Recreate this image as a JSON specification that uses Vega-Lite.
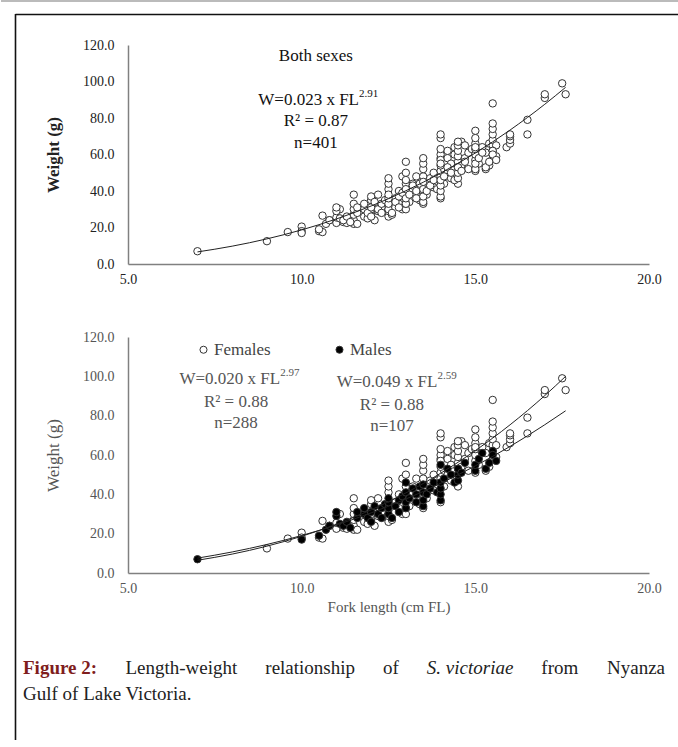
{
  "$schema": "https://vega.github.io/schema/vega-lite/v6.json",
  "padding": 0,
  "background": "white",
  "bounds": "flush",
  "spacing": 73,
  "config": {
    "font": "Liberation Serif",
    "view": {"stroke": null},
    "axis": {"ticks": false, "grid": false, "domainColor": "#808080", "domainWidth": 1.5, "labelFont": "Liberation Serif", "titleFont": "Liberation Serif", "labelFontSize": 14, "labelOverlap": false}
  },
  "datasets": {
    "fish": [
      {"fl": 9.0, "w": 12.5, "sex": "Females"}, {"fl": 9.6, "w": 17.5, "sex": "Females"}, {"fl": 10.0, "w": 20.5, "sex": "Females"}, {"fl": 10.0, "w": 18, "sex": "Females"},
      {"fl": 10.5, "w": 18, "sex": "Females"}, {"fl": 10.6, "w": 17.5, "sex": "Females"}, {"fl": 10.6, "w": 26.5, "sex": "Females"}, {"fl": 10.8, "w": 24, "sex": "Females"},
      {"fl": 11.0, "w": 22.5, "sex": "Females"}, {"fl": 11.0, "w": 25.5, "sex": "Females"}, {"fl": 11.1, "w": 30, "sex": "Females"}, {"fl": 11.2, "w": 23, "sex": "Females"},
      {"fl": 11.3, "w": 22.5, "sex": "Females"}, {"fl": 11.5, "w": 22, "sex": "Females"}, {"fl": 11.5, "w": 24, "sex": "Females"}, {"fl": 11.5, "w": 27, "sex": "Females"},
      {"fl": 11.5, "w": 30, "sex": "Females"}, {"fl": 11.5, "w": 33, "sex": "Females"}, {"fl": 11.5, "w": 38, "sex": "Females"}, {"fl": 11.6, "w": 22, "sex": "Females"},
      {"fl": 11.8, "w": 26, "sex": "Females"}, {"fl": 11.9, "w": 25, "sex": "Females"}, {"fl": 12.0, "w": 27, "sex": "Females"}, {"fl": 12.0, "w": 35, "sex": "Females"},
      {"fl": 12.0, "w": 37, "sex": "Females"}, {"fl": 12.1, "w": 24, "sex": "Females"}, {"fl": 12.2, "w": 38, "sex": "Females"}, {"fl": 12.3, "w": 31, "sex": "Females"},
      {"fl": 12.5, "w": 26, "sex": "Females"}, {"fl": 12.5, "w": 41, "sex": "Females"}, {"fl": 12.5, "w": 44, "sex": "Females"}, {"fl": 12.5, "w": 47, "sex": "Females"},
      {"fl": 12.6, "w": 27, "sex": "Females"}, {"fl": 12.7, "w": 36, "sex": "Females"}, {"fl": 12.8, "w": 40, "sex": "Females"}, {"fl": 12.9, "w": 48, "sex": "Females"},
      {"fl": 12.9, "w": 30, "sex": "Females"}, {"fl": 13.0, "w": 30, "sex": "Females"}, {"fl": 13.0, "w": 39, "sex": "Females"}, {"fl": 13.0, "w": 44, "sex": "Females"},
      {"fl": 13.0, "w": 50, "sex": "Females"}, {"fl": 13.0, "w": 56, "sex": "Females"}, {"fl": 13.1, "w": 34, "sex": "Females"}, {"fl": 13.3, "w": 48, "sex": "Females"},
      {"fl": 13.4, "w": 35, "sex": "Females"}, {"fl": 13.5, "w": 33, "sex": "Females"}, {"fl": 13.5, "w": 48, "sex": "Females"}, {"fl": 13.5, "w": 52, "sex": "Females"},
      {"fl": 13.5, "w": 55, "sex": "Females"}, {"fl": 13.5, "w": 58, "sex": "Females"}, {"fl": 13.6, "w": 38, "sex": "Females"}, {"fl": 13.7, "w": 47, "sex": "Females"},
      {"fl": 13.8, "w": 50, "sex": "Females"}, {"fl": 13.9, "w": 47, "sex": "Females"}, {"fl": 14.0, "w": 36, "sex": "Females"}, {"fl": 14.0, "w": 48, "sex": "Females"},
      {"fl": 14.0, "w": 51, "sex": "Females"}, {"fl": 14.0, "w": 58, "sex": "Females"}, {"fl": 14.0, "w": 60, "sex": "Females"}, {"fl": 14.0, "w": 69, "sex": "Females"},
      {"fl": 14.0, "w": 71, "sex": "Females"}, {"fl": 14.1, "w": 44, "sex": "Females"}, {"fl": 14.1, "w": 52, "sex": "Females"}, {"fl": 14.2, "w": 58, "sex": "Females"},
      {"fl": 14.2, "w": 62, "sex": "Females"}, {"fl": 14.3, "w": 55, "sex": "Females"}, {"fl": 14.4, "w": 60, "sex": "Females"}, {"fl": 14.4, "w": 64, "sex": "Females"},
      {"fl": 14.5, "w": 44, "sex": "Females"}, {"fl": 14.5, "w": 56, "sex": "Females"}, {"fl": 14.5, "w": 59, "sex": "Females"}, {"fl": 14.5, "w": 62, "sex": "Females"},
      {"fl": 14.5, "w": 65, "sex": "Females"}, {"fl": 14.6, "w": 67, "sex": "Females"}, {"fl": 14.6, "w": 54, "sex": "Females"}, {"fl": 14.7, "w": 58, "sex": "Females"},
      {"fl": 14.7, "w": 65, "sex": "Females"}, {"fl": 14.8, "w": 52, "sex": "Females"}, {"fl": 14.8, "w": 61, "sex": "Females"}, {"fl": 14.9, "w": 63, "sex": "Females"},
      {"fl": 15.0, "w": 57, "sex": "Females"}, {"fl": 15.0, "w": 60, "sex": "Females"}, {"fl": 15.0, "w": 63, "sex": "Females"}, {"fl": 15.0, "w": 66, "sex": "Females"},
      {"fl": 15.0, "w": 69, "sex": "Females"}, {"fl": 15.0, "w": 73, "sex": "Females"}, {"fl": 15.1, "w": 55, "sex": "Females"}, {"fl": 15.2, "w": 64, "sex": "Females"},
      {"fl": 15.3, "w": 61, "sex": "Females"}, {"fl": 15.4, "w": 54, "sex": "Females"}, {"fl": 15.4, "w": 66, "sex": "Females"}, {"fl": 15.5, "w": 58, "sex": "Females"},
      {"fl": 15.5, "w": 65, "sex": "Females"}, {"fl": 15.5, "w": 68, "sex": "Females"}, {"fl": 15.5, "w": 71, "sex": "Females"}, {"fl": 15.5, "w": 74, "sex": "Females"},
      {"fl": 15.5, "w": 77, "sex": "Females"}, {"fl": 15.5, "w": 88, "sex": "Females"}, {"fl": 15.6, "w": 65, "sex": "Females"}, {"fl": 15.9, "w": 64, "sex": "Females"},
      {"fl": 16.0, "w": 66, "sex": "Females"}, {"fl": 16.0, "w": 68, "sex": "Females"}, {"fl": 16.0, "w": 70, "sex": "Females"}, {"fl": 16.0, "w": 71, "sex": "Females"},
      {"fl": 16.5, "w": 79, "sex": "Females"}, {"fl": 16.5, "w": 71, "sex": "Females"}, {"fl": 17.0, "w": 91, "sex": "Females"}, {"fl": 17.0, "w": 93, "sex": "Females"},
      {"fl": 17.5, "w": 99, "sex": "Females"}, {"fl": 17.6, "w": 93, "sex": "Females"},
      {"fl": 12.0, "w": 30, "sex": "Females"}, {"fl": 12.2, "w": 29, "sex": "Females"}, {"fl": 12.4, "w": 34, "sex": "Females"}, {"fl": 12.5, "w": 29, "sex": "Females"},
      {"fl": 12.5, "w": 32, "sex": "Females"}, {"fl": 12.8, "w": 33, "sex": "Females"}, {"fl": 13.0, "w": 33, "sex": "Females"}, {"fl": 13.2, "w": 44, "sex": "Females"},
      {"fl": 13.3, "w": 38, "sex": "Females"}, {"fl": 13.5, "w": 40, "sex": "Females"}, {"fl": 13.5, "w": 44, "sex": "Females"}, {"fl": 13.8, "w": 42, "sex": "Females"},
      {"fl": 14.0, "w": 54, "sex": "Females"}, {"fl": 14.0, "w": 57, "sex": "Females"}, {"fl": 14.2, "w": 50, "sex": "Females"}, {"fl": 14.3, "w": 47, "sex": "Females"},
      {"fl": 14.5, "w": 53, "sex": "Females"}, {"fl": 15.0, "w": 51, "sex": "Females"}, {"fl": 15.3, "w": 52, "sex": "Females"}, {"fl": 15.6, "w": 59, "sex": "Females"},
      {"fl": 15.5, "w": 62, "sex": "Females"}, {"fl": 14.0, "w": 63, "sex": "Females"}, {"fl": 14.5, "w": 67, "sex": "Females"}, {"fl": 15.0, "w": 64, "sex": "Females"},
      {"fl": 7.0, "w": 7, "sex": "Males"}, {"fl": 10.0, "w": 17, "sex": "Males"}, {"fl": 10.5, "w": 19, "sex": "Males"}, {"fl": 10.7, "w": 22, "sex": "Males"},
      {"fl": 10.8, "w": 24, "sex": "Males"}, {"fl": 11.0, "w": 29, "sex": "Males"}, {"fl": 11.0, "w": 31, "sex": "Males"}, {"fl": 11.1, "w": 25, "sex": "Males"},
      {"fl": 11.2, "w": 24, "sex": "Males"}, {"fl": 11.3, "w": 26, "sex": "Males"}, {"fl": 11.4, "w": 23, "sex": "Males"}, {"fl": 11.6, "w": 28, "sex": "Males"},
      {"fl": 11.6, "w": 31, "sex": "Males"}, {"fl": 11.8, "w": 30, "sex": "Males"}, {"fl": 11.8, "w": 33, "sex": "Males"}, {"fl": 11.9, "w": 28, "sex": "Males"},
      {"fl": 12.0, "w": 31, "sex": "Males"}, {"fl": 12.0, "w": 26, "sex": "Males"}, {"fl": 12.1, "w": 34, "sex": "Males"}, {"fl": 12.2, "w": 30, "sex": "Males"},
      {"fl": 12.3, "w": 28, "sex": "Males"}, {"fl": 12.3, "w": 33, "sex": "Males"}, {"fl": 12.4, "w": 35, "sex": "Males"}, {"fl": 12.5, "w": 30, "sex": "Males"},
      {"fl": 12.5, "w": 33, "sex": "Males"}, {"fl": 12.5, "w": 36, "sex": "Males"}, {"fl": 12.5, "w": 38, "sex": "Males"}, {"fl": 12.6, "w": 28, "sex": "Males"},
      {"fl": 12.7, "w": 34, "sex": "Males"}, {"fl": 12.8, "w": 37, "sex": "Males"}, {"fl": 12.8, "w": 31, "sex": "Males"}, {"fl": 12.9, "w": 39, "sex": "Males"},
      {"fl": 13.0, "w": 33, "sex": "Males"}, {"fl": 13.0, "w": 36, "sex": "Males"}, {"fl": 13.0, "w": 41, "sex": "Males"}, {"fl": 13.0, "w": 46, "sex": "Males"},
      {"fl": 13.1, "w": 38, "sex": "Males"}, {"fl": 13.2, "w": 43, "sex": "Males"}, {"fl": 13.3, "w": 36, "sex": "Males"}, {"fl": 13.3, "w": 40, "sex": "Males"},
      {"fl": 13.4, "w": 44, "sex": "Males"}, {"fl": 13.5, "w": 34, "sex": "Males"}, {"fl": 13.5, "w": 37, "sex": "Males"}, {"fl": 13.5, "w": 41, "sex": "Males"},
      {"fl": 13.5, "w": 45, "sex": "Males"}, {"fl": 13.6, "w": 40, "sex": "Males"}, {"fl": 13.7, "w": 43, "sex": "Males"}, {"fl": 13.8, "w": 46, "sex": "Males"},
      {"fl": 13.9, "w": 41, "sex": "Males"}, {"fl": 14.0, "w": 37, "sex": "Males"}, {"fl": 14.0, "w": 40, "sex": "Males"}, {"fl": 14.0, "w": 43, "sex": "Males"},
      {"fl": 14.0, "w": 46, "sex": "Males"}, {"fl": 14.0, "w": 55, "sex": "Males"}, {"fl": 14.1, "w": 48, "sex": "Males"}, {"fl": 14.2, "w": 53, "sex": "Males"},
      {"fl": 14.3, "w": 50, "sex": "Males"}, {"fl": 14.4, "w": 46, "sex": "Males"}, {"fl": 14.5, "w": 47, "sex": "Males"}, {"fl": 14.5, "w": 50, "sex": "Males"},
      {"fl": 14.5, "w": 53, "sex": "Males"}, {"fl": 14.6, "w": 51, "sex": "Males"}, {"fl": 14.7, "w": 56, "sex": "Males"}, {"fl": 15.0, "w": 52, "sex": "Males"},
      {"fl": 15.0, "w": 55, "sex": "Males"}, {"fl": 15.1, "w": 58, "sex": "Males"}, {"fl": 15.2, "w": 61, "sex": "Males"}, {"fl": 15.3, "w": 53, "sex": "Males"},
      {"fl": 15.4, "w": 56, "sex": "Males"}, {"fl": 15.5, "w": 62, "sex": "Males"}, {"fl": 15.5, "w": 60, "sex": "Males"}, {"fl": 15.6, "w": 57, "sex": "Males"}
    ],
    "fits": [
      {"fl": 7, "w": 6.62, "fit": "Both"}, {"fl": 8, "w": 9.77, "fit": "Both"}, {"fl": 9, "w": 13.77, "fit": "Both"}, {"fl": 10, "w": 18.69, "fit": "Both"},
      {"fl": 11, "w": 24.68, "fit": "Both"}, {"fl": 12, "w": 31.78, "fit": "Both"}, {"fl": 13, "w": 40.13, "fit": "Both"}, {"fl": 14, "w": 49.79, "fit": "Both"},
      {"fl": 15, "w": 60.83, "fit": "Both"}, {"fl": 16, "w": 73.40, "fit": "Both"}, {"fl": 17, "w": 87.53, "fit": "Both"}, {"fl": 17.6, "w": 96.82, "fit": "Both"},
      {"fl": 7, "w": 6.47, "fit": "Females"}, {"fl": 8, "w": 9.62, "fit": "Females"}, {"fl": 9, "w": 13.65, "fit": "Females"}, {"fl": 10, "w": 18.67, "fit": "Females"},
      {"fl": 11, "w": 24.79, "fit": "Females"}, {"fl": 12, "w": 32.09, "fit": "Females"}, {"fl": 13, "w": 40.70, "fit": "Females"}, {"fl": 14, "w": 50.70, "fit": "Females"},
      {"fl": 15, "w": 62.24, "fit": "Females"}, {"fl": 16, "w": 75.36, "fit": "Females"}, {"fl": 17, "w": 90.21, "fit": "Females"}, {"fl": 17.6, "w": 100.0, "fit": "Females"},
      {"fl": 7, "w": 7.57, "fit": "Males"}, {"fl": 8, "w": 10.70, "fit": "Males"}, {"fl": 9, "w": 14.51, "fit": "Males"}, {"fl": 10, "w": 19.06, "fit": "Males"},
      {"fl": 11, "w": 24.41, "fit": "Males"}, {"fl": 12, "w": 30.57, "fit": "Males"}, {"fl": 13, "w": 37.61, "fit": "Males"}, {"fl": 14, "w": 45.58, "fit": "Males"},
      {"fl": 15, "w": 54.47, "fit": "Males"}, {"fl": 16, "w": 64.36, "fit": "Males"}, {"fl": 17, "w": 75.39, "fit": "Males"}, {"fl": 17.6, "w": 82.48, "fit": "Males"}
    ]
  },
  "resolve": {"scale": {"fill": "independent"}, "legend": {"fill": "independent"}},
  "vconcat": [
    {
      "width": 521,
      "height": 219,
      "encoding": {
        "x": {"type": "quantitative", "scale": {"domain": [5, 20], "nice": false}, "axis": {"values": [5, 10, 15, 20], "format": ".1f", "title": null, "labelColor": "#222", "labelFontSize": 14, "labelPadding": 8, "labelOverlap": false, "labelFlush": false}},
        "y": {"type": "quantitative", "scale": {"domain": [0, 120], "nice": false}, "axis": {"values": [0, 20, 40, 60, 80, 100, 120], "format": ".1f", "title": "Weight (g)", "titleFontWeight": "bold", "titleFontSize": 17, "titleColor": "#222", "labelColor": "#222", "labelFontSize": 14, "labelPadding": 14, "titlePadding": 20, "labelOverlap": false, "labelBound": false}}
      },
      "layer": [
        {
          "data": {"name": "fish"},
          "mark": {"type": "point", "shape": "circle", "filled": true, "fill": "white", "stroke": "#333", "strokeWidth": 1, "size": 55, "opacity": 1},
          "encoding": {"x": {"field": "fl"}, "y": {"field": "w"}}
        },
        {
          "data": {"name": "fits"},
          "transform": [{"filter": "datum.fit === 'Both'"}],
          "mark": {"type": "line", "color": "#222", "strokeWidth": 1, "interpolate": "monotone"},
          "encoding": {"x": {"field": "fl"}, "y": {"field": "w"}}
        },
        {
          "data": {"values": [{}]},
          "mark": {"type": "text", "text": "Both sexes", "fontSize": 17, "color": "#111", "align": "center", "baseline": "middle"},
          "encoding": {"x": {"datum": 10.41}, "y": {"datum": 114}}
        },
        {
          "data": {"values": [{}]},
          "mark": {"type": "text", "text": "W=0.023 x FL", "fontSize": 17, "color": "#111", "align": "right", "baseline": "middle"},
          "encoding": {"x": {"datum": 11.65}, "y": {"datum": 89.9}}
        },
        {
          "data": {"values": [{}]},
          "mark": {"type": "text", "text": "2.91", "fontSize": 11, "color": "#111", "align": "left", "baseline": "middle", "dy": -6},
          "encoding": {"x": {"datum": 11.65}, "y": {"datum": 89.9}}
        },
        {
          "data": {"values": [{}]},
          "mark": {"type": "text", "text": "R² = 0.87", "fontSize": 17, "color": "#111", "align": "center", "baseline": "middle"},
          "encoding": {"x": {"datum": 10.41}, "y": {"datum": 78.4}}
        },
        {
          "data": {"values": [{}]},
          "mark": {"type": "text", "text": "n=401", "fontSize": 17, "color": "#111", "align": "center", "baseline": "middle"},
          "encoding": {"x": {"datum": 10.41}, "y": {"datum": 66.3}}
        }
      ]
    },
    {
      "width": 521,
      "height": 236,
      "encoding": {
        "x": {"type": "quantitative", "scale": {"domain": [5, 20], "nice": false}, "axis": {"values": [5, 10, 15, 20], "format": ".1f", "title": "Fork length (cm FL)", "titleFontSize": 15, "titleFontWeight": "normal", "titleColor": "#555", "titlePadding": 4, "labelColor": "#555", "labelFontSize": 14, "labelPadding": 8, "labelOverlap": false, "labelFlush": false}},
        "y": {"type": "quantitative", "scale": {"domain": [0, 120], "nice": false}, "axis": {"values": [0, 20, 40, 60, 80, 100, 120], "format": ".1f", "title": "Weight (g)", "titleFontWeight": "normal", "titleFontSize": 17, "titleColor": "#555", "labelColor": "#555", "labelFontSize": 14, "labelPadding": 14, "titlePadding": 20, "labelOverlap": false, "labelBound": false}}
      },
      "layer": [
        {
          "data": {"name": "fish"},
          "mark": {"type": "point", "shape": "circle", "filled": true, "stroke": "#333", "strokeWidth": 1, "size": 55, "opacity": 1},
          "encoding": {
            "x": {"field": "fl"},
            "y": {"field": "w"},
            "fill": {"field": "sex", "type": "nominal", "scale": {"domain": ["Females", "Males"], "range": ["white", "black"]},
              "legend": {"title": null, "orient": "none", "legendX": 67, "legendY": 4, "direction": "horizontal", "symbolType": "circle", "symbolSize": 50, "symbolStrokeColor": "#333", "symbolStrokeWidth": 1, "labelFontSize": 17, "labelColor": "#444", "labelFont": "Liberation Serif", "columnPadding": 60, "labelOffset": 2}}
          }
        },
        {
          "data": {"name": "fits"},
          "transform": [{"filter": "datum.fit !== 'Both'"}],
          "mark": {"type": "line", "color": "#222", "strokeWidth": 1, "interpolate": "monotone"},
          "encoding": {"x": {"field": "fl"}, "y": {"field": "w"}, "detail": {"field": "fit"}}
        },
        {
          "data": {"values": [{}]},
          "mark": {"type": "text", "text": "W=0.020 x FL", "fontSize": 17, "color": "#555", "align": "right", "baseline": "middle"},
          "encoding": {"x": {"datum": 9.38}, "y": {"datum": 98.6}}
        },
        {
          "data": {"values": [{}]},
          "mark": {"type": "text", "text": "2.97", "fontSize": 11, "color": "#555", "align": "left", "baseline": "middle", "dy": -6},
          "encoding": {"x": {"datum": 9.38}, "y": {"datum": 98.6}}
        },
        {
          "data": {"values": [{}]},
          "mark": {"type": "text", "text": "R² = 0.88", "fontSize": 17, "color": "#555", "align": "center", "baseline": "middle"},
          "encoding": {"x": {"datum": 8.11}, "y": {"datum": 86.9}}
        },
        {
          "data": {"values": [{}]},
          "mark": {"type": "text", "text": "n=288", "fontSize": 17, "color": "#555", "align": "center", "baseline": "middle"},
          "encoding": {"x": {"datum": 8.11}, "y": {"datum": 76.3}}
        },
        {
          "data": {"values": [{}]},
          "mark": {"type": "text", "text": "W=0.049 x FL", "fontSize": 17, "color": "#555", "align": "right", "baseline": "middle"},
          "encoding": {"x": {"datum": 13.91}, "y": {"datum": 97.1}}
        },
        {
          "data": {"values": [{}]},
          "mark": {"type": "text", "text": "2.59", "fontSize": 11, "color": "#555", "align": "left", "baseline": "middle", "dy": -6},
          "encoding": {"x": {"datum": 13.91}, "y": {"datum": 97.1}}
        },
        {
          "data": {"values": [{}]},
          "mark": {"type": "text", "text": "R² = 0.88", "fontSize": 17, "color": "#555", "align": "center", "baseline": "middle"},
          "encoding": {"x": {"datum": 12.6}, "y": {"datum": 85.4}}
        },
        {
          "data": {"values": [{}]},
          "mark": {"type": "text", "text": "n=107", "fontSize": 17, "color": "#555", "align": "center", "baseline": "middle"},
          "encoding": {"x": {"datum": 12.6}, "y": {"datum": 74.7}}
        }
      ]
    },
    {
      "width": 521,
      "height": 48,
      "data": {"values": [{}]},
      "encoding": {
        "x": {"type": "quantitative", "scale": {"domain": [5, 20], "nice": false, "zero": false}, "axis": null},
        "y": {"type": "quantitative", "scale": {"domain": [0, 1], "nice": false, "zero": false}, "axis": null}
      },
      "layer": [
        {
          "mark": {"type": "rule", "color": "#bbbbbb", "strokeWidth": 2},
          "encoding": {"x": {"datum": 1.3436}, "x2": {"datum": 20.835}, "y": {"datum": 14.4375}}
        },
        {
          "mark": {"type": "rule", "color": "#111111", "strokeWidth": 1.6},
          "encoding": {"x": {"datum": 1.761}, "y": {"datum": 14.1667}, "y2": {"datum": -0.9583}}
        },
        {
          "mark": {"type": "rule", "color": "#111111", "strokeWidth": 1.6},
          "encoding": {"x": {"datum": 1.761}, "x2": {"datum": 20.835}, "y": {"datum": 14.156}}
        },
        {
          "mark": {"type": "text", "text": "Figure 2:", "fontSize": 19, "fontWeight": "bold", "color": "#7f1d1d", "align": "left", "baseline": "middle"},
          "encoding": {"x": {"datum": 1.977}, "y": {"datum": 0.5417}}
        },
        {
          "mark": {"type": "text", "text": "Length-weight", "fontSize": 19, "color": "#222", "align": "left", "baseline": "middle"},
          "encoding": {"x": {"datum": 4.925}, "y": {"datum": 0.5417}}
        },
        {
          "mark": {"type": "text", "text": "relationship", "fontSize": 19, "color": "#222", "align": "left", "baseline": "middle"},
          "encoding": {"x": {"datum": 8.953}, "y": {"datum": 0.5417}}
        },
        {
          "mark": {"type": "text", "text": "of", "fontSize": 19, "color": "#222", "align": "left", "baseline": "middle"},
          "encoding": {"x": {"datum": 12.342}, "y": {"datum": 0.5417}}
        },
        {
          "mark": {"type": "text", "text": "S. victoriae", "fontSize": 19, "fontStyle": "italic", "color": "#222", "align": "left", "baseline": "middle"},
          "encoding": {"x": {"datum": 13.603}, "y": {"datum": 0.5417}}
        },
        {
          "mark": {"type": "text", "text": "from", "fontSize": 19, "color": "#222", "align": "left", "baseline": "middle"},
          "encoding": {"x": {"datum": 16.9}, "y": {"datum": 0.5417}}
        },
        {
          "mark": {"type": "text", "text": "Nyanza", "fontSize": 19, "color": "#222", "align": "right", "baseline": "middle"},
          "encoding": {"x": {"datum": 20.461}, "y": {"datum": 0.5417}}
        },
        {
          "mark": {"type": "text", "text": "Gulf of Lake Victoria.", "fontSize": 19, "color": "#222", "align": "left", "baseline": "middle"},
          "encoding": {"x": {"datum": 1.977}, "y": {"datum": 0}}
        }
      ]
    }
  ]
}
